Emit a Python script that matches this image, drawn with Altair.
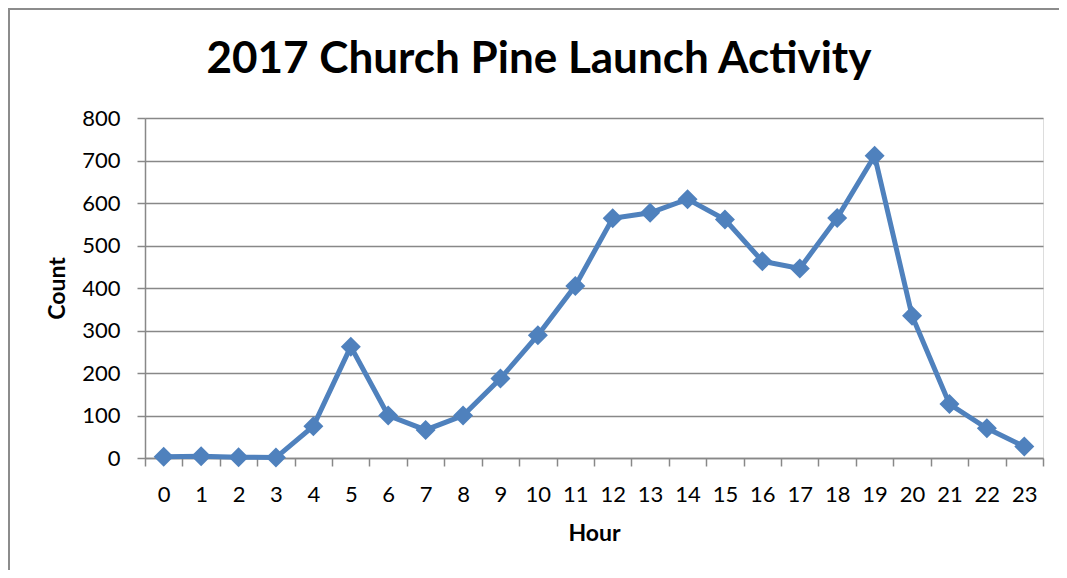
import altair as alt
import pandas as pd

hours = [str(h) for h in range(24)]
counts = [3, 4, 2, 1, 75, 262, 100, 66, 100, 187, 289, 405, 564, 577, 609,
          561, 463, 446, 565, 711, 335, 127, 70, 27]
y_ticks = [0, 100, 200, 300, 400, 500, 600, 700, 800]
title_text = "2017 Church Pine Launch Activity"

df = pd.DataFrame({"Hour": hours, "Count": counts})
one = alt.Data(values=[{"k": 1}])

FONT = "Lato"
BLUE = "#4F81BD"
GRID = "#888888"

x_enc = alt.X(
    "Hour:O",
    sort=hours,
    scale=alt.Scale(type="band", paddingInner=0, paddingOuter=0),
    axis=alt.Axis(
        title="Hour", labelAngle=0, tickBand="extent", domainColor=GRID,
        domainWidth=1.5, tickColor=GRID, tickWidth=1.5, tickSize=8,
        labelFont=FONT, labelFontSize=22, labelColor="#000000", labelPadding=18,
        titleFont=FONT, titleFontSize=23, titleFontWeight="bold", titleColor="#000000",
        titleBaseline="middle", titleY=75, titleX=449, grid=False,
    ),
)
y_enc = alt.Y(
    "Count:Q",
    scale=alt.Scale(domain=[0, 800], nice=False),
    axis=alt.Axis(
        title="Count", values=y_ticks, grid=True, gridColor=GRID, gridWidth=1.5,
        domainColor=GRID, domainWidth=1.5, tickColor=GRID, tickWidth=1.5, tickSize=8,
        labelFont=FONT, labelFontSize=22, labelColor="#000000", labelPadding=17,
        titleFont=FONT, titleFontSize=23, titleFontWeight="bold", titleColor="#000000",
        titleX=-88, titleY=170, titleBaseline="middle", titleAngle=-90,
    ),
)

line = alt.Chart(df).mark_line(
    color=BLUE, strokeWidth=5,
    point=alt.OverlayMarkDef(shape="diamond", size=400, color=BLUE, filled=True, opacity=1),
).encode(x=x_enc, y=y_enc)

title = alt.Chart(one).mark_text(
    font=FONT, fontSize=44, fontWeight="bold", color="#000000",
    align="center", baseline="alphabetic",
).encode(x=alt.value(394), y=alt.value(-45), text=alt.value(title_text))

frame_top = alt.Chart(one).mark_rule(color="#8c8c8c", strokeWidth=2).encode(
    x=alt.value(-137), x2=alt.value(930), y=alt.value(-109)
)
frame_left = alt.Chart(one).mark_rule(color="#8c8c8c", strokeWidth=2).encode(
    x=alt.value(-136), y=alt.value(-110), y2=alt.value(470)
)

chart = alt.layer(line, title, frame_top, frame_left).properties(
    width=898,
    height=340,
    autosize=alt.AutoSizeParams(type="none"),
    padding={"left": 137, "top": 110, "right": 16, "bottom": 112},
).configure_view(stroke=None).configure(background="white")

chart.save("out.html", embed_options={"renderer": "svg", "actions": False})
